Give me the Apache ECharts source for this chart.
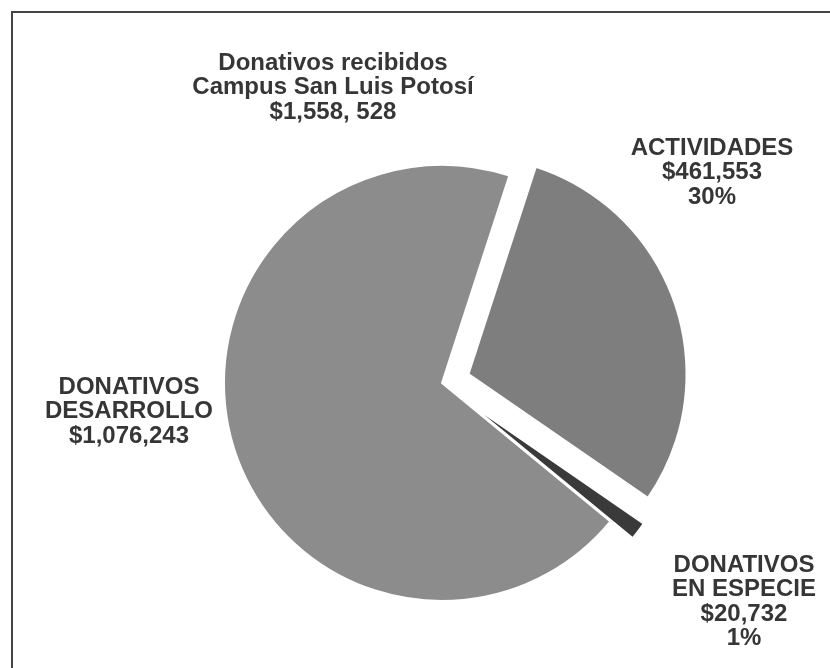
<!DOCTYPE html>
<html>
<head>
<meta charset="utf-8">
<title>Donativos recibidos</title>
<script src="https://cdn.jsdelivr.net/npm/echarts@6/dist/echarts.min.js"></script>
<style>
  html, body { margin: 0; padding: 0; background: #ffffff; }
  #chart { width: 830px; height: 668px; }
</style>
</head>
<body>
<div id="chart"></div>
<script>
// Donation breakdown, in pesos
const sliceKeys = ['ACTIVIDADES', 'DONATIVOS EN ESPECIE', 'DONATIVOS DESARROLLO'];
const sliceValues = [461553, 20732, 1076243];
const sliceNameLines = [['ACTIVIDADES'], ['DONATIVOS', 'EN ESPECIE'], ['DONATIVOS', 'DESARROLLO']];
const sliceValueLabels = ['$461,553', '$20,732', '$1,076,243'];
const slicePercentLabels = ['30%', '1%', ''];
const titleLines = ['Donativos recibidos', 'Campus San Luis Potosí', '$1,558, 528'];

const sliceColors = ['#7e7e7e', '#3a3a3a', '#8c8c8c'];
const explodedSlices = [true, true, false];

const FONT = '"Liberation Sans", Arial, Helvetica, sans-serif';
const TEXT_COLOR = '#363636';

const chart = echarts.init(document.getElementById('chart'), null, { renderer: 'canvas' });

// Build the multi-line block for each slice label
function sliceLabelText(i) {
  const lines = sliceNameLines[i].slice();
  lines.push(sliceValueLabels[i]);
  if (slicePercentLabels[i]) lines.push(slicePercentLabels[i]);
  return lines.join('\n');
}

function textBlock(text, x, y) {
  return {
    type: 'text',
    x: x,
    y: y,
    style: {
      text: text,
      fill: TEXT_COLOR,
      font: 'bold 24px ' + FONT,
      align: 'center',
      verticalAlign: 'top',
      lineHeight: 24.5
    },
    silent: true
  };
}

const labelAnchors = [
  [712, 136],   // ACTIVIDADES
  [744, 553],   // DONATIVOS EN ESPECIE
  [129, 375]    // DONATIVOS DESARROLLO
];

const graphics = [
  // frame lines
  { type: 'line', shape: { x1: 11, y1: 12, x2: 830, y2: 12 }, style: { stroke: '#454545', lineWidth: 2 }, silent: true },
  { type: 'line', shape: { x1: 12, y1: 11, x2: 12, y2: 668 }, style: { stroke: '#454545', lineWidth: 2 }, silent: true },
  textBlock(titleLines.join('\n'), 333, 51)
];
sliceKeys.forEach(function (k, i) {
  graphics.push(textBlock(sliceLabelText(i), labelAnchors[i][0], labelAnchors[i][1]));
});

chart.setOption({
  animation: false,
  backgroundColor: '#ffffff',
  graphic: graphics,
  series: [{
    type: 'pie',
    center: [442, 383],
    radius: 218,
    startAngle: 72,
    clockwise: true,
    selectedMode: 'multiple',
    selectedOffset: 28,
    avoidLabelOverlap: false,
    label: { show: false },
    labelLine: { show: false },
    emphasis: { disabled: true },
    itemStyle: { borderWidth: 2, borderColor: '#ffffff' },
    data: sliceKeys.map(function (k, i) {
      return {
        name: k,
        value: sliceValues[i],
        selected: explodedSlices[i],
        itemStyle: { color: sliceColors[i] }
      };
    })
  }]
});
</script>
</body>
</html>
